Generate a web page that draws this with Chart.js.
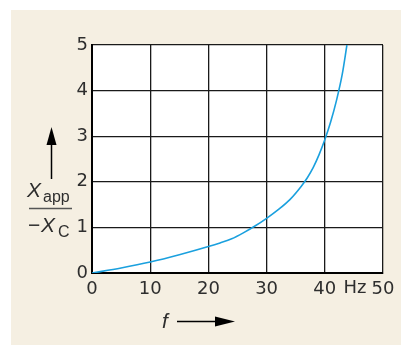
<!DOCTYPE html>
<html>
<head>
<meta charset="utf-8">
<script src="https://cdn.jsdelivr.net/npm/chart.js@4"></script>
<style>
  html, body { margin: 0; padding: 0; background: #fff; }
  #wrap { width: 401px; height: 345px; }
</style>
</head>
<body>
<div id="wrap"><canvas id="ratioChart" width="401" height="345"></canvas></div>
<script>
  // frequency (Hz) and the ratio X_app / -X_C
  const freqHz = [0, 5, 10, 15, 20, 22, 24, 26, 28, 30, 32, 34, 36, 37, 38, 39, 40, 41, 42, 43, 43.8];
  const ratio = [0, 0.11, 0.24, 0.4, 0.58, 0.66, 0.75, 0.88, 1.03, 1.2, 1.39, 1.61, 1.91, 2.09, 2.31, 2.59, 2.92, 3.31, 3.78, 4.36, 5.0];
  const xTicks = [0, 10, 20, 30, 40, 50];
  const yTicks = [0, 1, 2, 3, 4, 5];

  const points = freqHz.map((f, i) => ({ x: f, y: ratio[i] }));

  const BEIGE = "#f5efe2";
  const TEXT = "#2e2e2e";
  const FONT = "'DejaVu Sans', sans-serif";
  const CAP_FONT = "'Liberation Sans', Arial, sans-serif";

  // beige panel behind everything, white plot area
  const panelBg = {
    id: "panelBg",
    beforeDraw(chart) {
      const { ctx, chartArea: a } = chart;
      ctx.save();
      ctx.fillStyle = "#fff";
      ctx.fillRect(0, 0, chart.width, chart.height);
      ctx.fillStyle = BEIGE;
      ctx.fillRect(11, 10, chart.width - 11, chart.height - 10);
      ctx.fillStyle = "#fff";
      ctx.fillRect(a.left, a.top, a.right - a.left, a.bottom - a.top);
      ctx.restore();
    },
  };

  function arrowHead(ctx, tipX, tipY, dir) {
    ctx.beginPath();
    if (dir === "up") {
      ctx.moveTo(tipX, tipY);
      ctx.lineTo(tipX - 5, tipY + 18);
      ctx.lineTo(tipX + 5, tipY + 18);
    } else {
      ctx.moveTo(tipX, tipY);
      ctx.lineTo(tipX - 20, tipY - 5);
      ctx.lineTo(tipX - 20, tipY + 5);
    }
    ctx.closePath();
    ctx.fill();
  }

  // axis captions: Hz unit, fraction label with arrow, f with arrow
  const captions = {
    id: "captions",
    afterDraw(chart) {
      const { ctx } = chart;
      ctx.save();
      ctx.fillStyle = TEXT;
      ctx.textBaseline = "alphabetic";

      ctx.font = "18px " + FONT;
      ctx.textAlign = "center";
      ctx.fillText("Hz", 355, 293);

      // y caption
      ctx.fillStyle = "#000";
      ctx.strokeStyle = "#000";
      ctx.lineWidth = 1.5;
      ctx.beginPath();
      ctx.moveTo(51.5, 140);
      ctx.lineTo(51.5, 179);
      ctx.stroke();
      arrowHead(ctx, 51.5, 127, "up");

      ctx.fillStyle = TEXT;
      ctx.textAlign = "left";
      ctx.font = "italic 21px " + CAP_FONT;
      ctx.fillText("X", 27, 197);
      ctx.font = "16px " + CAP_FONT;
      ctx.fillText("app", 43, 202);
      ctx.strokeStyle = "#555";
      ctx.lineWidth = 1.3;
      ctx.beginPath();
      ctx.moveTo(29, 208.5);
      ctx.lineTo(72, 208.5);
      ctx.stroke();
      ctx.font = "21px " + CAP_FONT;
      ctx.fillText("\u2212", 28, 232);
      ctx.font = "italic 21px " + CAP_FONT;
      ctx.fillText("X", 41, 232);
      ctx.font = "16px " + CAP_FONT;
      ctx.fillText("C", 58, 237);

      // x caption
      ctx.font = "italic 21px " + CAP_FONT;
      ctx.fillText("f", 162, 328);
      ctx.fillStyle = "#000";
      ctx.strokeStyle = "#000";
      ctx.lineWidth = 1.5;
      ctx.beginPath();
      ctx.moveTo(177, 321.5);
      ctx.lineTo(218, 321.5);
      ctx.stroke();
      arrowHead(ctx, 235, 321.5, "right");
      ctx.restore();
    },
  };

  new Chart(document.querySelector("#ratioChart"), {
    type: "line",
    data: {
      datasets: [
        {
          data: points,
          borderColor: "#1aa0de",
          borderWidth: 1.6,
          pointRadius: 0,
          fill: false,
          cubicInterpolationMode: "monotone",
        },
      ],
    },
    options: {
      responsive: false,
      animation: false,
      devicePixelRatio: 1,
      layout: { padding: { top: 45, right: 18, left: 0, bottom: 0 } },
      plugins: {
        legend: { display: false },
        tooltip: { enabled: false },
      },
      scales: {
        x: {
          type: "linear",
          min: 0,
          max: 50,
          afterBuildTicks(scale) {
            scale.ticks = xTicks.map((v) => ({ value: v }));
          },
          afterFit(scale) {
            scale.height = 72;
          },
          grid: { color: "#1a1a1a", lineWidth: 1.3, drawTicks: false },
          border: { color: "#000", width: 2 },
          ticks: {
            padding: 6,
            maxRotation: 0,
            color: TEXT,
            font: { family: FONT, size: 18 },
          },
        },
        y: {
          min: 0,
          max: 5,
          afterBuildTicks(scale) {
            scale.ticks = yTicks.map((v) => ({ value: v }));
          },
          afterFit(scale) {
            scale.width = 92;
          },
          grid: { color: "#1a1a1a", lineWidth: 1.3, drawTicks: false },
          border: { color: "#000", width: 2 },
          ticks: {
            padding: 4,
            color: TEXT,
            font: { family: FONT, size: 18 },
          },
        },
      },
    },
    plugins: [panelBg, captions],
  });
</script>
</body>
</html>
